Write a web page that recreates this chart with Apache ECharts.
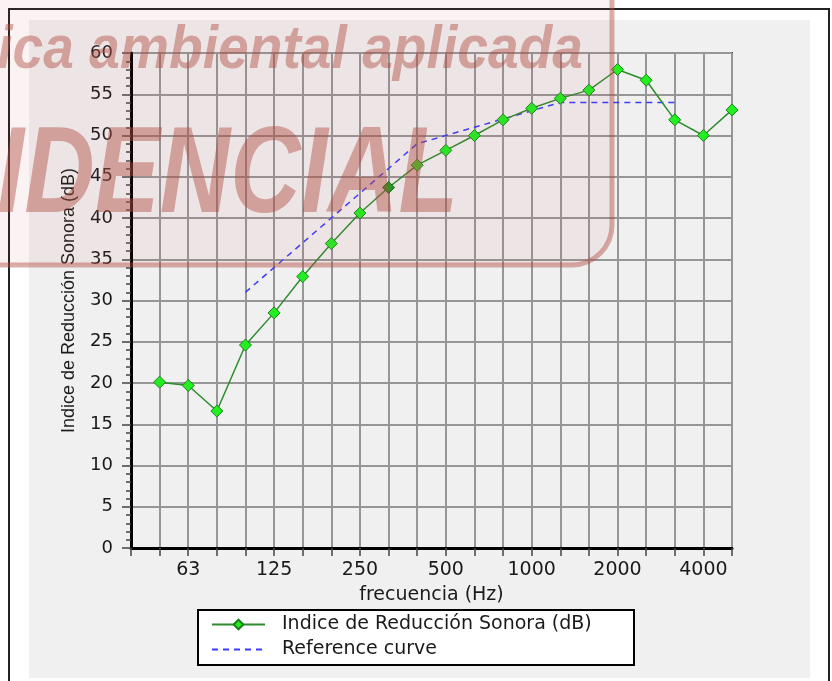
<!DOCTYPE html>
<html>
<head>
<meta charset="utf-8">
<title>Indice de Reducción Sonora</title>
<script src="https://cdn.jsdelivr.net/npm/echarts@6/dist/echarts.min.js"></script>
<style>
    html, body { margin: 0; padding: 0; background: #fff; }
    #frame { position: absolute; left: 8px; top: 8px; width: 822px; height: 700px; border: 2px solid #222; box-sizing: border-box; }
    #panel { position: absolute; left: 29px; top: 20px; width: 781px; height: 658px; background: #f0f0f0; }
    #chart { position: absolute; left: 0; top: 0; width: 832px; height: 681px; }
</style>
</head>
<body>
<div id="frame"></div>
<div id="panel"></div>
<div id="chart"></div>
<script>
// third-octave bands (Hz)
var freqs = ['50', '63', '80', '100', '125', '160', '200', '250', '315', '400', '500',
             '630', '800', '1000', '1250', '1600', '2000', '2500', '3150', '4000', '5000'];
var tickLabels = ['63', '125', '250', '500', '1000', '2000', '4000'];

// measured sound reduction index (dB)
var indiceR = [20.1, 19.7, 16.6, 24.6, 28.5, 32.9, 36.9, 40.6, 43.7, 46.4, 48.2,
               50.0, 51.9, 53.3, 54.5, 55.5, 58.0, 56.7, 51.9, 50.0, 53.1];

// shifted reference curve, 100 - 3150 Hz
var referenceCurve = [null, null, null, 31, 34, 37, 40, 43, 46, 49, 50,
                      51, 52, 53, 54, 54, 54, 54, 54, null, null];

var pickedBand = '315';

var nameR = 'Indice de Reducción Sonora (dB)';
var nameRef = 'Reference curve';

document.addEventListener('DOMContentLoaded', function() {
    var chart = echarts.init(document.getElementById('chart'), null, {renderer: 'canvas'});

    var dataR = indiceR.map(function(v, i) {
        var item = {value: [i, v]};
        if (freqs[i] === pickedBand) {
            item.itemStyle = {color: '#1f9a1f', borderColor: '#116611'};
        }
        return item;
    });
    var dataRef = [];
    referenceCurve.forEach(function(v, i) {
        if (v !== null) dataRef.push([i, v]);
    });

    var wmColor = 'rgba(175,75,65,0.45)';

    var option = {
        backgroundColor: 'transparent',
        animation: false,
        grid: {
            left: 131, right: 100, top: 53, bottom: 133,
            show: true,
            backgroundColor: 'transparent',
            borderColor: '#333',
            borderWidth: 2
        },
        legend: {
            orient: 'vertical',
            left: 211,
            top: 614,
            padding: 0,
            itemWidth: 53,
            itemHeight: 12,
            itemGap: 4,
            textStyle: {
                fontFamily: 'DejaVu Sans',
                fontSize: 19,
                lineHeight: 21,
                color: '#1a1a1a',
                padding: [0, 0, 0, 12]
            },
            data: [
                {name: nameR},
                {name: nameRef, itemStyle: {opacity: 0}}
            ]
        },
        xAxis: {
            type: 'value',
            min: -1,
            max: 20,
            interval: 1,
            name: 'frecuencia (Hz)',
            nameLocation: 'middle',
            nameGap: 38,
            nameTextStyle: {fontFamily: 'DejaVu Sans', fontSize: 19, color: '#1a1a1a'},
            axisLine: {onZero: false, lineStyle: {color: '#000', width: 3}},
            axisTick: {length: 8, lineStyle: {color: '#444', width: 1.5}},
            axisLabel: {
                margin: 13,
                fontFamily: 'DejaVu Sans',
                fontSize: 19,
                color: '#1a1a1a',
                formatter: function(v) {
                    var f = freqs[v];
                    return tickLabels.indexOf(f) >= 0 ? f : '';
                }
            },
            splitLine: {show: true, lineStyle: {color: '#969696', width: 2}}
        },
        yAxis: {
            type: 'value',
            min: 0,
            max: 60,
            interval: 5,
            name: 'Indice de Reducción Sonora (dB)',
            nameLocation: 'middle',
            nameGap: 53,
            nameTextStyle: {fontFamily: 'Liberation Sans', fontSize: 18, color: '#1a1a1a'},
            axisLine: {show: true, onZero: false, lineStyle: {color: '#000', width: 3}},
            axisTick: {show: true, length: 9, lineStyle: {color: '#444', width: 1.5}},
            minorTick: {show: true, splitNumber: 5, length: 5, lineStyle: {color: '#444', width: 1.5}},
            axisLabel: {margin: 18, fontFamily: 'DejaVu Sans', fontSize: 18, color: '#1a1a1a'},
            splitLine: {show: true, lineStyle: {color: '#969696', width: 2}}
        },
        series: [
            {
                name: nameR,
                type: 'line',
                data: dataR,
                z: 4,
                symbol: 'diamond',
                symbolSize: [12, 12],
                lineStyle: {color: '#2e8b2e', width: 1.5},
                itemStyle: {color: '#22ee22', borderColor: '#1c7f1c', borderWidth: 1}
            },
            {
                name: nameRef,
                type: 'line',
                data: dataRef,
                z: 3,
                symbol: 'none',
                lineStyle: {color: '#3a3aff', width: 1.5, type: [6, 5]},
                itemStyle: {color: '#3a3aff'}
            }
        ],
        graphic: [
            // legend frame
            {
                type: 'rect',
                z: 1,
                shape: {x: 198, y: 610, width: 436, height: 55},
                style: {fill: '#fff', stroke: '#000', lineWidth: 2}
            },
            // watermark
            {
                type: 'rect',
                z: 100,
                shape: {x: -60, y: -60, width: 672, height: 325, r: 40},
                style: {fill: 'rgba(200,90,80,0.07)', stroke: wmColor, lineWidth: 5}
            },
            {
                type: 'text',
                z: 100,
                x: 583,
                y: 51,
                scaleX: 0.89,
                style: {
                    text: 'Acústica ambiental aplicada',
                    fill: wmColor,
                    font: 'italic bold 62px "Liberation Sans", Arial, sans-serif',
                    align: 'right',
                    verticalAlign: 'middle'
                }
            },
            {
                type: 'text',
                z: 100,
                x: 458,
                y: 178,
                scaleX: 0.8,
                style: {
                    text: 'CONFIDENCIAL',
                    fill: wmColor,
                    font: 'italic bold 122px "Liberation Sans", Arial, sans-serif',
                    align: 'right',
                    verticalAlign: 'middle'
                }
            }
        ]
    };
    chart.setOption(option);
});
</script>
</body>
</html>
